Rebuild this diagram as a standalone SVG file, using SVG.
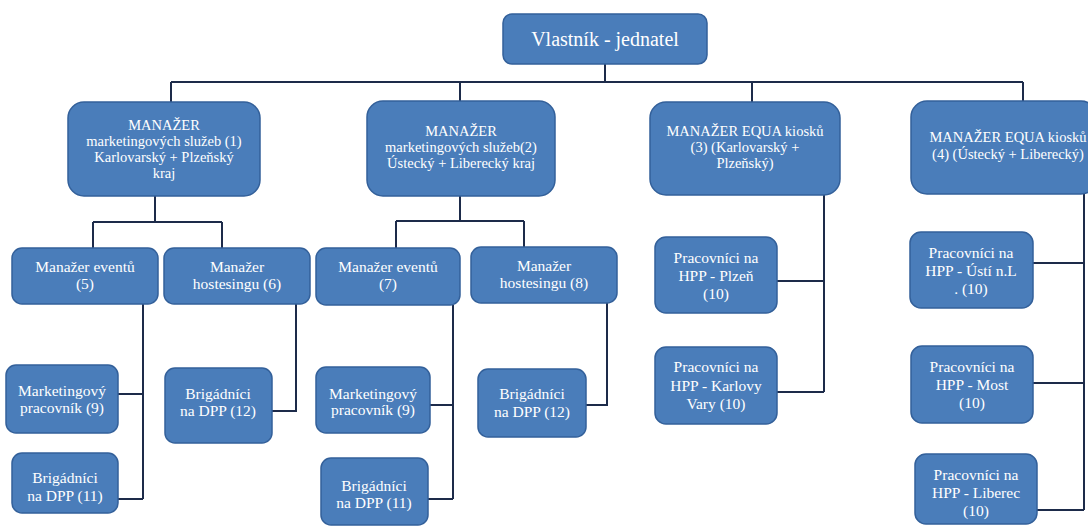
<svg xmlns="http://www.w3.org/2000/svg" width="1088" height="527" viewBox="0 0 1088 527">
  <style>
    .box { fill: #4a7dba; stroke: #33609a; stroke-width: 1.5; }
    .lbl { fill: #ffffff; font-family: 'Liberation Serif', 'DejaVu Serif', serif; text-anchor: middle; }
    .top { font-size: 20px; }
    .mgr { font-size: 14.5px; }
    .sub { font-size: 15.5px; }
    .conn { fill: none; stroke: #1d2b4a; stroke-width: 2; }
  </style>
  <rect width="1088" height="527" fill="#ffffff"/>

  <!-- connectors -->
  <g id="connectors" class="conn">
    <path d="M605,64 V82 M171,82 H1023 M171,82 V102 M460,82 V101 M752,82 V102 M1023,82 V101"/>
    <path d="M155,196 V222 M93,222 H222 M93,222 V248 M222,222 V248"/>
    <path d="M460,196 V221 M396,221 H524 M396,221 V248 M524,221 V247"/>
    <path d="M143,304 V499 M118,394 H143 M118,499 H143"/>
    <path d="M296,304 V411 H272"/>
    <path d="M453,305 V499 M430,405 H453 M428,499 H453"/>
    <path d="M607,303 V405 H586"/>
    <path d="M824,195 V392 M777,281 H824 M777,392 H824"/>
    <path d="M1084,194 V510 M1033,263 H1084 M1033,383 H1084 M1037,510 H1084"/>
  </g>

  <!-- owner -->
  <g id="owner">
    <rect class="box" x="503" y="14" width="204" height="50" rx="9"/>
    <text class="lbl top" x="605" y="46" font-family="Liberation Serif, serif">Vlastník - jednatel</text>
  </g>

  <!-- managers -->
  <g id="mgr1">
    <rect class="box" x="68" y="102" width="192" height="94" rx="16"/>
    <text class="lbl mgr" x="164" y="130">MANAŽER<tspan x="164" dy="16">marketingových služeb (1)</tspan><tspan x="164" dy="16">Karlovarský + Plzeňský</tspan><tspan x="164" dy="16">kraj</tspan></text>
  </g>
  <g id="mgr2">
    <rect class="box" x="367" y="101" width="188" height="95" rx="16"/>
    <text class="lbl mgr" x="461" y="136">MANAŽER<tspan x="461" dy="16">marketingových služeb(2)</tspan><tspan x="461" dy="16">Ústecký + Liberecký kraj</tspan></text>
  </g>
  <g id="mgr3">
    <rect class="box" x="650" y="102" width="190" height="93" rx="16"/>
    <text class="lbl mgr" x="745" y="136">MANAŽER EQUA kiosků<tspan x="745" dy="16">(3) (Karlovarský +</tspan><tspan x="745" dy="16">Plzeňský)</tspan></text>
  </g>
  <g id="mgr4">
    <rect class="box" x="911" y="101" width="186" height="93" rx="16"/>
    <text class="lbl mgr" x="1008" y="142">MANAŽER EQUA kiosků<tspan x="1008" dy="17">(4) (Ústecký + Liberecký)</tspan></text>
  </g>

  <!-- second level -->
  <g id="events5">
    <rect class="box" x="12" y="248" width="146" height="56" rx="10"/>
    <text class="lbl sub" x="85" y="272">Manažer eventů<tspan x="85" dy="17">(5)</tspan></text>
  </g>
  <g id="hostess6">
    <rect class="box" x="164" y="248" width="146" height="56" rx="10"/>
    <text class="lbl sub" x="237" y="272">Manažer<tspan x="237" dy="17">hostesingu (6)</tspan></text>
  </g>
  <g id="events7">
    <rect class="box" x="316" y="248" width="144" height="57" rx="10"/>
    <text class="lbl sub" x="388" y="272">Manažer eventů<tspan x="388" dy="17">(7)</tspan></text>
  </g>
  <g id="hostess8">
    <rect class="box" x="471" y="247" width="146" height="56" rx="10"/>
    <text class="lbl sub" x="544" y="271">Manažer<tspan x="544" dy="17">hostesingu (8)</tspan></text>
  </g>

  <!-- third level, left branch -->
  <g id="mkt9a">
    <rect class="box" x="6" y="365" width="112" height="68" rx="10"/>
    <text class="lbl sub" x="62" y="396">Marketingový<tspan x="62" dy="17">pracovník (9)</tspan></text>
  </g>
  <g id="dpp11a">
    <rect class="box" x="12" y="453" width="106" height="60" rx="10"/>
    <text class="lbl sub" x="65" y="483">Brigádníci<tspan x="65" dy="18">na DPP (11)</tspan></text>
  </g>
  <g id="dpp12a">
    <rect class="box" x="165" y="368" width="107" height="75" rx="10"/>
    <text class="lbl sub" x="218" y="399">Brigádníci<tspan x="218" dy="17">na DPP (12)</tspan></text>
  </g>

  <!-- third level, middle branch -->
  <g id="mkt9b">
    <rect class="box" x="316" y="367" width="114" height="66" rx="10"/>
    <text class="lbl sub" x="373" y="399">Marketingový<tspan x="373" dy="16">pracovník (9)</tspan></text>
  </g>
  <g id="dpp11b">
    <rect class="box" x="321" y="458" width="107" height="67" rx="10"/>
    <text class="lbl sub" x="374" y="491">Brigádníci<tspan x="374" dy="17">na DPP  (11)</tspan></text>
  </g>
  <g id="dpp12b">
    <rect class="box" x="478" y="369" width="108" height="68" rx="10"/>
    <text class="lbl sub" x="532" y="399">Brigádníci<tspan x="532" dy="18">na DPP  (12)</tspan></text>
  </g>

  <!-- kiosk staff -->
  <g id="hpp-plzen">
    <rect class="box" x="655" y="237" width="122" height="76" rx="11"/>
    <text class="lbl sub" x="716" y="263">Pracovníci na<tspan x="716" dy="18">HPP - Plzeň</tspan><tspan x="716" dy="18">(10)</tspan></text>
  </g>
  <g id="hpp-kv">
    <rect class="box" x="655" y="347" width="122" height="77" rx="11"/>
    <text class="lbl sub" x="716" y="372">Pracovníci na<tspan x="716" dy="19">HPP - Karlovy</tspan><tspan x="716" dy="18">Vary  (10)</tspan></text>
  </g>
  <g id="hpp-usti">
    <rect class="box" x="910" y="232" width="123" height="76" rx="11"/>
    <text class="lbl sub" x="971" y="258">Pracovníci na<tspan x="971" dy="18">HPP - Ústí n.L</tspan><tspan x="971" dy="18">. (10)</tspan></text>
  </g>
  <g id="hpp-most">
    <rect class="box" x="911" y="346" width="122" height="77" rx="11"/>
    <text class="lbl sub" x="972" y="372">Pracovníci na<tspan x="972" dy="18">HPP - Most</tspan><tspan x="972" dy="18">(10)</tspan></text>
  </g>
  <g id="hpp-liberec">
    <rect class="box" x="915" y="454" width="122" height="70" rx="11"/>
    <text class="lbl sub" x="976" y="480">Pracovníci na<tspan x="976" dy="18">HPP - Liberec</tspan><tspan x="976" dy="18">(10)</tspan></text>
  </g>
</svg>
